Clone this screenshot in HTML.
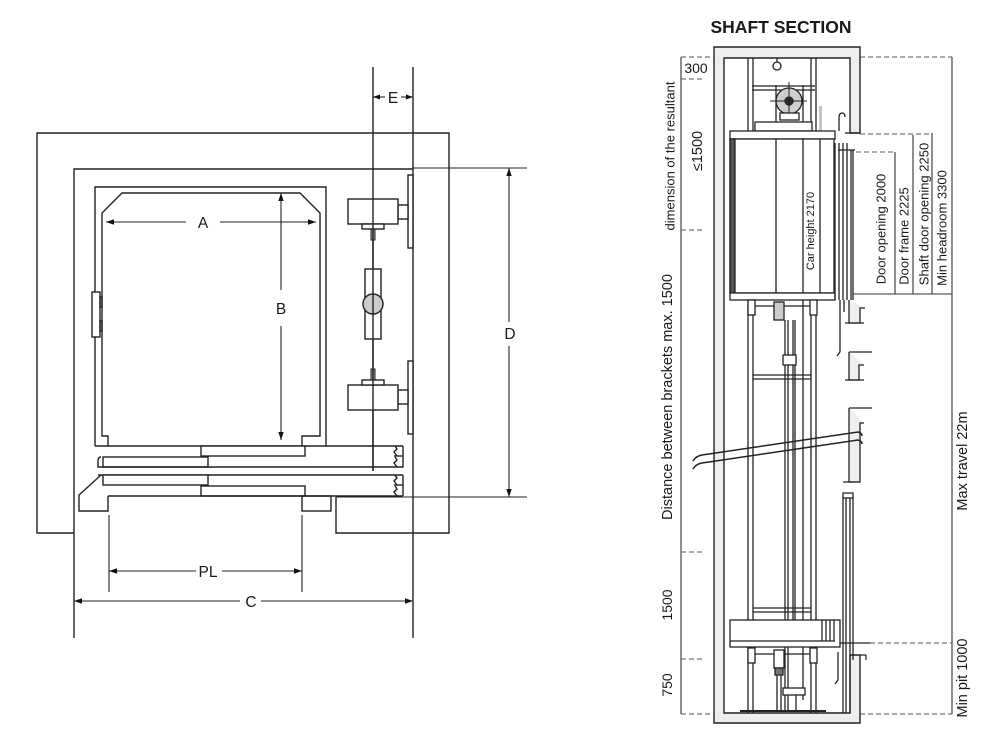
<!DOCTYPE html>
<html>
<head>
<meta charset="utf-8">
<style>
  html,body{margin:0;padding:0;background:#fff;}
  svg{display:block;}
  text{font-family:"Liberation Sans",Arial,sans-serif;fill:#1a1a1a;}
</style>
</head>
<body>
<svg width="1000" height="736" viewBox="0 0 1000 736" xmlns="http://www.w3.org/2000/svg">
<rect x="0" y="0" width="1000" height="736" fill="#fff"/>

<!-- ================= LEFT PLAN VIEW ================= -->
<g stroke="#222" stroke-width="1.4" fill="none">
  <!-- outer wall -->
  <path d="M74,533 H37 V133 H449 V533 H336 V497"/>
  <!-- inner shaft line -->
  <path d="M74,638 V169 H413"/>
  <line x1="413" y1="67" x2="413" y2="638"/>
  <line x1="373" y1="67" x2="373" y2="471"/>
  <line x1="413" y1="168" x2="527" y2="168" stroke-width="1.1"/>
  <line x1="336" y1="497" x2="527" y2="497" stroke-width="1.1"/>

  <!-- car -->
  <path d="M95,446 V187 H326 V446"/>
  <path d="M108,446 V436 H102 V213 L122,193 H300 L320,213 V436 H302 V446"/>
  <!-- hinge -->
  <rect x="92" y="292" width="8" height="45" fill="#fff"/>
  <rect x="100" y="297" width="2" height="10"/>
  <rect x="100" y="321" width="2" height="10"/>

  <!-- doors -->
  <line x1="95" y1="446" x2="403" y2="446"/>
  <rect x="201" y="446" width="104" height="10" fill="#fff"/>
  <rect x="103" y="457" width="105" height="10" fill="#fff"/>
  <path d="M101,457 Q98,457 98,461 V467 H403 V446"/>
  <path d="M395,446 l2,3 l-3,3 l3,4 M395,457 l2,3 l-3,3 l3,4"/>
  <line x1="394" y1="456" x2="403" y2="456"/>
  <line x1="98" y1="475" x2="403" y2="475"/>
  <rect x="103" y="475" width="105" height="10" fill="#fff"/>
  <rect x="201" y="486" width="104" height="10" fill="#fff"/>
  <line x1="108" y1="496" x2="403" y2="496"/>
  <line x1="403" y1="475" x2="403" y2="496"/>
  <path d="M395,475 l2,3 l-3,3 l3,4 M395,486 l2,3 l-3,3 l3,4"/>
  <line x1="394" y1="485" x2="403" y2="485"/>

  <!-- sills -->
  <path d="M101,475 L79,495 V511 H108 V496"/>
  <rect x="302" y="496" width="29" height="15"/>

  <!-- rail brackets top -->
  <rect x="408" y="175" width="5" height="73" fill="#fff"/>
  <rect x="398" y="205" width="10" height="14" fill="#fff"/>
  <rect x="348" y="199" width="50" height="25" fill="#fff"/>
  <rect x="362" y="224" width="22" height="5" fill="#fff"/>
  <rect x="371" y="229" width="4" height="11" fill="#999" stroke-width="1"/>
  <!-- middle rail -->
  <rect x="365" y="269" width="16" height="70" fill="#fff"/>
  <circle cx="373" cy="304" r="10" fill="#ccc"/>
  <!-- rail brackets bottom -->
  <rect x="408" y="361" width="5" height="73" fill="#fff"/>
  <rect x="398" y="390" width="10" height="14" fill="#fff"/>
  <rect x="348" y="385" width="50" height="25" fill="#fff"/>
  <rect x="362" y="380" width="22" height="5" fill="#fff"/>
  <rect x="371" y="369" width="4" height="11" fill="#999" stroke-width="1"/>
  <line x1="373" y1="199" x2="373" y2="471"/>
</g>

<!-- dimensions left -->
<g stroke="#222" stroke-width="1.1" fill="none">
  <!-- A -->
  <line x1="106" y1="222" x2="186" y2="222"/>
  <line x1="220" y1="222" x2="316" y2="222"/>
  <!-- B -->
  <line x1="281" y1="193" x2="281" y2="290"/>
  <line x1="281" y1="326" x2="281" y2="440"/>
  <!-- E -->
  <line x1="373" y1="97" x2="385" y2="97"/>
  <line x1="401" y1="97" x2="413" y2="97"/>
  <!-- PL -->
  <line x1="109" y1="515" x2="109" y2="592"/>
  <line x1="302" y1="515" x2="302" y2="592"/>
  <line x1="109" y1="571" x2="196" y2="571"/>
  <line x1="222" y1="571" x2="302" y2="571"/>
  <!-- C -->
  <line x1="74" y1="601" x2="240" y2="601"/>
  <line x1="261" y1="601" x2="413" y2="601"/>
  <!-- D -->
  <line x1="509" y1="168" x2="509" y2="322"/>
  <line x1="509" y1="346" x2="509" y2="497"/>
</g>
<g fill="#111">
  <polygon points="106,222 114,219.3 114,224.7"/>
  <polygon points="316,222 308,219.3 308,224.7"/>
  <polygon points="281,193 278.3,201 283.7,201"/>
  <polygon points="281,440 278.3,432 283.7,432"/>
  <polygon points="373,97 380,94.5 380,99.5"/>
  <polygon points="413,97 406,94.5 406,99.5"/>
  <polygon points="109,571 117,568.3 117,573.7"/>
  <polygon points="302,571 294,568.3 294,573.7"/>
  <polygon points="74,601 82,598.3 82,603.7"/>
  <polygon points="413,601 405,598.3 405,603.7"/>
  <polygon points="509,168 506.3,176 511.7,176"/>
  <polygon points="509,497 506.3,489 511.7,489"/>
</g>
<g font-size="15.5" text-anchor="middle">
  <text x="203" y="228">A</text>
  <text x="281" y="314">B</text>
  <text x="393" y="103">E</text>
  <text x="208" y="577">PL</text>
  <text x="251" y="607">C</text>
  <text x="510" y="339">D</text>
</g>

<!-- ================= RIGHT SHAFT SECTION ================= -->
<text x="781" y="33" font-size="17.5" font-weight="bold" text-anchor="middle">SHAFT SECTION</text>

<!-- concrete walls -->
<path d="M714,47 H860 V133 H850 V58 H724 V713 H850 V655 H860 V723 H714 Z" fill="#eeeeee" stroke="#222" stroke-width="1.4"/>
<line x1="860" y1="655" x2="866" y2="655" stroke="#222" stroke-width="1.2"/>
<line x1="866" y1="655" x2="866" y2="660" stroke="#222" stroke-width="1.2"/>

<!-- landing walls -->
<g stroke="#222" stroke-width="1.3" fill="#eeeeee">
  <path d="M849,300 V323 H860 V308 H865"/>
  <path d="M849,352 H872 M849,352 V380 H859 V365 H864" />
  <path d="M849,408 H872 M849,408 V482 H860 V423 H864"/>
</g>
<g stroke="#222" stroke-width="1.3" fill="none">
  <line x1="845" y1="323" x2="864" y2="323"/>
  <line x1="845" y1="380" x2="864" y2="380"/>
  <line x1="843" y1="482" x2="860" y2="482"/>
  <line x1="840" y1="643" x2="870" y2="643"/>
</g>

<!-- dimension lines right -->
<g stroke="#333" stroke-width="1.1" fill="none">
  <line x1="681" y1="57" x2="681" y2="714"/>
  <line x1="952" y1="57" x2="952" y2="714"/>
  <line x1="895" y1="152" x2="895" y2="294"/>
  <line x1="913" y1="135" x2="913" y2="294"/>
  <line x1="932" y1="133" x2="932" y2="294"/>
  <line x1="853" y1="294" x2="952" y2="294"/>
</g>
<g stroke="#555" stroke-width="1.1" fill="none" stroke-dasharray="5,3">
  <line x1="681" y1="57" x2="714" y2="57"/>
  <line x1="860" y1="57" x2="952" y2="57"/>
  <line x1="681" y1="79" x2="702" y2="79"/>
  <line x1="681" y1="230" x2="702" y2="230"/>
  <line x1="681" y1="552" x2="702" y2="552"/>
  <line x1="681" y1="659" x2="702" y2="659"/>
  <line x1="681" y1="714" x2="714" y2="714"/>
  <line x1="860" y1="714" x2="952" y2="714"/>
  <line x1="860" y1="134" x2="932" y2="134"/>
  <line x1="856" y1="152" x2="895" y2="152"/>
  <line x1="870" y1="643" x2="952" y2="643"/>
</g>

<!-- machinery top -->
<g stroke="#222" stroke-width="1.3" fill="none">
  <line x1="748" y1="58" x2="748" y2="131"/>
  <line x1="753" y1="58" x2="753" y2="131"/>
  <line x1="811" y1="58" x2="811" y2="131"/>
  <line x1="816" y1="58" x2="816" y2="131"/>
  <line x1="777" y1="58" x2="777" y2="62"/>
  <circle cx="777" cy="66" r="4" fill="#fff"/>
  <line x1="752" y1="86" x2="815" y2="86"/>
  <line x1="752" y1="90" x2="815" y2="90"/>
  <line x1="776" y1="85" x2="776" y2="131"/>
  <line x1="803" y1="85" x2="803" y2="131"/>
  <circle cx="789" cy="101" r="13" fill="#cfcfcf"/>
  <circle cx="789" cy="101" r="4" fill="#333"/>
  <line x1="770" y1="101" x2="807" y2="101" stroke-width="1"/>
  <line x1="789" y1="82" x2="789" y2="120" stroke-width="1"/>
  <rect x="780" y="113" width="19" height="7" fill="#fff"/>
  <rect x="755" y="122" width="57" height="9" fill="#fff"/>
  <path d="M839,131 V118 Q839,113 842,113 Q845,113 845,117"/>
</g>
<rect x="819" y="106" width="3" height="25" fill="#c4c4c4"/>

<!-- car at top -->
<g stroke="#222" stroke-width="1.3" fill="none">
  <rect x="730" y="131" width="105" height="8" fill="#fff"/>
  <rect x="730" y="139" width="104" height="154" fill="#fff"/>
  <rect x="730" y="139" width="5" height="154" fill="#555"/>
  <line x1="776" y1="139" x2="776" y2="300"/>
  <line x1="803" y1="139" x2="803" y2="300"/>
  <line x1="820" y1="139" x2="820" y2="293"/>
  <rect x="730" y="293" width="105" height="7" fill="#fff"/>
  <line x1="835" y1="143" x2="835" y2="300"/>
  <line x1="839" y1="143" x2="839" y2="300"/>
  <line x1="843" y1="143" x2="843" y2="300"/>
  <line x1="847" y1="143" x2="847" y2="300"/>
  <line x1="851" y1="150" x2="851" y2="300"/>
  <line x1="853" y1="150" x2="853" y2="300"/>
  <line x1="845" y1="133" x2="860" y2="133"/>
  <line x1="838" y1="150" x2="855" y2="150"/>
  <line x1="840" y1="300" x2="840" y2="352"/>
  <line x1="840" y1="352" x2="837" y2="356"/>
  <line x1="844" y1="300" x2="844" y2="312"/>
</g>

<!-- rails and hoist below car -->
<g stroke="#222" stroke-width="1.3" fill="none">
  <line x1="748" y1="300" x2="748" y2="713"/>
  <line x1="753" y1="300" x2="753" y2="713"/>
  <line x1="811" y1="300" x2="811" y2="713"/>
  <line x1="816" y1="300" x2="816" y2="713"/>
  <rect x="748" y="300" width="7" height="15" fill="#fff"/>
  <rect x="810" y="300" width="7" height="15" fill="#fff"/>
  <line x1="755" y1="306" x2="810" y2="306"/>
  <rect x="774" y="302" width="10" height="18" fill="#ccc"/>
  <line x1="785" y1="320" x2="785" y2="620"/>
  <line x1="788" y1="320" x2="788" y2="620"/>
  <line x1="793" y1="320" x2="793" y2="620"/>
  <line x1="795" y1="320" x2="795" y2="620"/>
  <line x1="803" y1="300" x2="803" y2="700"/>
  <rect x="783" y="355" width="13" height="10" fill="#fff"/>
  <line x1="753" y1="375" x2="811" y2="375"/>
  <line x1="753" y1="379" x2="811" y2="379"/>

  <!-- landing doors lower -->
  <rect x="843" y="493" width="10" height="5" fill="#fff"/>
  <line x1="843" y1="498" x2="843" y2="713"/>
  <line x1="846" y1="498" x2="846" y2="713"/>
  <line x1="850" y1="498" x2="850" y2="713"/>
  <line x1="853" y1="498" x2="853" y2="660"/>
  <line x1="838" y1="652" x2="838" y2="680"/>
  <line x1="838" y1="680" x2="835" y2="684"/>

  <!-- car at pit -->
  <line x1="753" y1="608" x2="811" y2="608"/>
  <line x1="753" y1="612" x2="811" y2="612"/>
  <rect x="730" y="620" width="110" height="27" fill="#fff"/>
  <line x1="730" y1="641" x2="835" y2="641"/>
  <line x1="822" y1="620" x2="822" y2="641"/>
  <line x1="826" y1="620" x2="826" y2="641"/>
  <line x1="830" y1="620" x2="830" y2="641"/>
  <line x1="834" y1="620" x2="834" y2="641"/>
  <rect x="748" y="648" width="7" height="15" fill="#fff"/>
  <rect x="810" y="648" width="7" height="15" fill="#fff"/>
  <line x1="755" y1="654" x2="810" y2="654"/>
  <rect x="774" y="650" width="10" height="18" fill="#fff"/>
  <rect x="775" y="668" width="8" height="7" fill="#777"/>
  <line x1="777" y1="675" x2="777" y2="712"/>
  <line x1="781" y1="675" x2="781" y2="712"/>
  <line x1="785" y1="647" x2="785" y2="712"/>
  <line x1="788" y1="647" x2="788" y2="712"/>
  <rect x="783" y="688" width="22" height="7" fill="#fff"/>
  <line x1="796" y1="695" x2="796" y2="712"/>
  <line x1="740" y1="711" x2="826" y2="711" stroke-width="2"/>
</g>

<!-- break lines -->
<g stroke="#222" stroke-width="1.5" fill="none">
  <path d="M693,461 Q696,456 702,455 L858,432 Q862,433 862,436"/>
  <path d="M693,469 Q696,464 702,463 L858,440 Q862,441 862,444"/>
</g>

<!-- right texts -->
<g text-anchor="middle">
  <text x="696" y="73" font-size="14">300</text>
  <text x="670" y="156" font-size="13" dominant-baseline="central" transform="rotate(-90 670 156)">dimension of the resultant</text>
  <text x="698" y="151" font-size="14.5" dominant-baseline="central" transform="rotate(-90 698 151)">≤1500</text>
  <text x="668" y="397" font-size="14.5" dominant-baseline="central" transform="rotate(-90 668 397)">Distance between brackets max. 1500</text>
  <text x="667" y="605" font-size="14" dominant-baseline="central" transform="rotate(-90 667 605)">1500</text>
  <text x="667" y="685" font-size="14" dominant-baseline="central" transform="rotate(-90 667 685)">750</text>
  <text x="811" y="231" font-size="11" dominant-baseline="central" transform="rotate(-90 811 231)">Car height 2170</text>
  <text x="881" y="229" font-size="13" dominant-baseline="central" transform="rotate(-90 881 229)">Door opening 2000</text>
  <text x="904" y="236" font-size="13" dominant-baseline="central" transform="rotate(-90 904 236)">Door frame 2225</text>
  <text x="924" y="214" font-size="13" dominant-baseline="central" transform="rotate(-90 924 214)">Shaft door opening 2250</text>
  <text x="942" y="228" font-size="13" dominant-baseline="central" transform="rotate(-90 942 228)">Min headroom 3300</text>
  <text x="963" y="461" font-size="14.5" dominant-baseline="central" transform="rotate(-90 963 461)">Max travel 22m</text>
  <text x="963" y="678" font-size="14.5" dominant-baseline="central" transform="rotate(-90 963 678)">Min pit 1000</text>
</g>
</svg>
</body>
</html>
